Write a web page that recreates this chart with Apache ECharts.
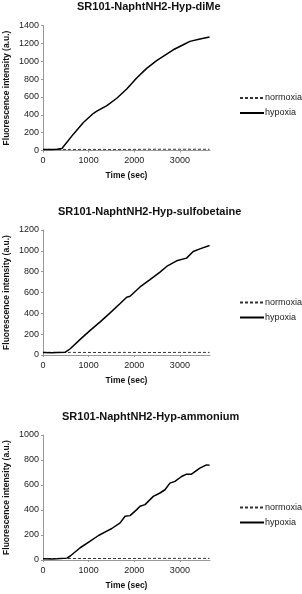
<!DOCTYPE html>
<html>
<head>
<meta charset="utf-8">
<script src="https://cdn.jsdelivr.net/npm/echarts@6/dist/echarts.min.js"></script>
<style>html,body{margin:0;padding:0;background:#fff}#c{width:302px;height:594px}</style>
</head>
<body>
<div id="c"></div>
<script>
// ---- data ----
const titles = ['SR101-NaphtNH2-Hyp-diMe', 'SR101-NaphtNH2-Hyp-sulfobetaine', 'SR101-NaphtNH2-Hyp-ammonium'];
const yMax = [1400, 1200, 1000];
const seriesNames = ['normoxia', 'hypoxia'];
const xTickLabels = ['0', '1000', '2000', '3000'];

const normoxia1Time = [0, 600, 1200, 1800, 2400, 3000, 3650];
const normoxia1Values = [12, 12, 12, 12, 14, 14, 14];
const hypoxia1Time = [0, 200, 300, 415, 450, 670, 890, 1107, 1180, 1400, 1617, 1835, 2053, 2272, 2490, 2710, 2855, 3074, 3220, 3440, 3650];
const hypoxia1Values = [12, 10, 15, 22, 35, 186, 317, 417, 440, 503, 585, 689, 812, 920, 1006, 1080, 1128, 1184, 1222, 1248, 1270];

const normoxia2Time = [0, 600, 1200, 1800, 2400, 3000, 3650];
const normoxia2Values = [25, 25, 24, 25, 24, 25, 25];
const hypoxia2Time = [0, 200, 300, 490, 597, 815, 1034, 1253, 1471, 1690, 1835, 1908, 2127, 2345, 2564, 2710, 2928, 3146, 3292, 3438, 3650];
const hypoxia2Values = [25, 22, 25, 27, 60, 150, 236, 318, 404, 494, 554, 564, 653, 723, 796, 850, 904, 930, 994, 1019, 1051];

const normoxia3Time = [0, 600, 1200, 1800, 2400, 3000, 3650];
const normoxia3Values = [12, 12, 12, 12, 13, 13, 13];
const hypoxia3Time = [0, 200, 300, 525, 597, 815, 1034, 1216, 1398, 1508, 1690, 1799, 1908, 2054, 2127, 2236, 2418, 2564, 2673, 2782, 2892, 3037, 3146, 3255, 3437, 3583, 3650];
const hypoxia3Values = [10, 8, 10, 15, 32, 98, 151, 196, 231, 252, 297, 350, 355, 403, 430, 443, 509, 536, 562, 615, 629, 668, 687, 687, 735, 761, 758];

// ---- build ----
const pairs = (t, v) => t.map((x, i) => [x, v[i]]);
const normData = [pairs(normoxia1Time, normoxia1Values), pairs(normoxia2Time, normoxia2Values), pairs(normoxia3Time, normoxia3Values)];
const hypData = [pairs(hypoxia1Time, hypoxia1Values), pairs(hypoxia2Time, hypoxia2Values), pairs(hypoxia3Time, hypoxia3Values)];

const FONT = 'Liberation Sans, Arial, sans-serif';
const plotTops = [25.5, 230, 435];
const titleLefts = [77, 58, 62];
const plotH = 125;

const option = {
  animation: false,
  backgroundColor: '#fff',
  title: [], legend: [], grid: [], xAxis: [], yAxis: [], series: []
};

for (let i = 0; i < 3; i++) {
  const top = plotTops[i];
  option.title.push({
    text: titles[i], left: titleLefts[i], top: top - 24, padding: 0,
    textStyle: { fontFamily: FONT, fontSize: 11, fontWeight: 'bold', color: '#111' }
  });
  option.grid.push({ left: 43, top: top, width: 167, height: plotH, containLabel: false, outerBoundsMode: 'none' });
  option.xAxis.push({
    type: 'value', gridIndex: i, min: 0, max: 3660, interval: 1000,
    name: 'Time (sec)', nameLocation: 'middle', nameGap: 21,
    nameTextStyle: { fontFamily: FONT, fontSize: 8.5, fontWeight: 'bold', color: '#111' },
    axisLine: { show: true, lineStyle: { color: '#999', width: 1 } },
    axisTick: { show: true, length: 2, lineStyle: { color: '#999' } },
    axisLabel: { fontFamily: FONT, fontSize: 9, color: '#222', margin: 6, showMaxLabel: false,
      formatter: v => xTickLabels.includes(String(v)) ? String(v) : '' },
    splitLine: { show: false }
  });
  option.yAxis.push({
    type: 'value', gridIndex: i, min: 0, max: yMax[i], interval: 200,
    name: 'Fluorescence intensity (a.u.)', nameLocation: 'middle', nameGap: 32, nameMoveOverlap: false,
    nameTextStyle: { fontFamily: FONT, fontSize: 8.5, fontWeight: 'bold', color: '#111' },
    axisLine: { show: true, lineStyle: { color: '#999', width: 1 } },
    axisTick: { show: true, length: 2, lineStyle: { color: '#999' } },
    axisLabel: { fontFamily: FONT, fontSize: 9, color: '#222', margin: 4, formatter: v => String(v) },
    splitLine: { show: false }
  });
  option.legend.push({
    orient: 'vertical', left: 234, top: top + 63, itemWidth: 24, itemHeight: 10, itemGap: 6,
    data: seriesNames.slice(),
    itemStyle: { opacity: 0 },
    textStyle: { fontFamily: FONT, fontSize: 9, color: '#222', padding: [0, 0, 0, -4] },
    selectedMode: false
  });
  option.series.push({
    name: seriesNames[0], type: 'line', xAxisIndex: i, yAxisIndex: i, data: normData[i],
    symbol: 'none', lineStyle: { color: '#333', width: 1, type: [3, 2] }, itemStyle: { color: '#333' }
  });
  option.series.push({
    name: seriesNames[1], type: 'line', xAxisIndex: i, yAxisIndex: i, data: hypData[i],
    symbol: 'none', lineStyle: { color: '#000', width: 1.5 }, itemStyle: { color: '#000' }
  });
}

const chart = echarts.init(document.getElementById('c'), null, { renderer: 'canvas' });
chart.setOption(option);
</script>
</body>
</html>
